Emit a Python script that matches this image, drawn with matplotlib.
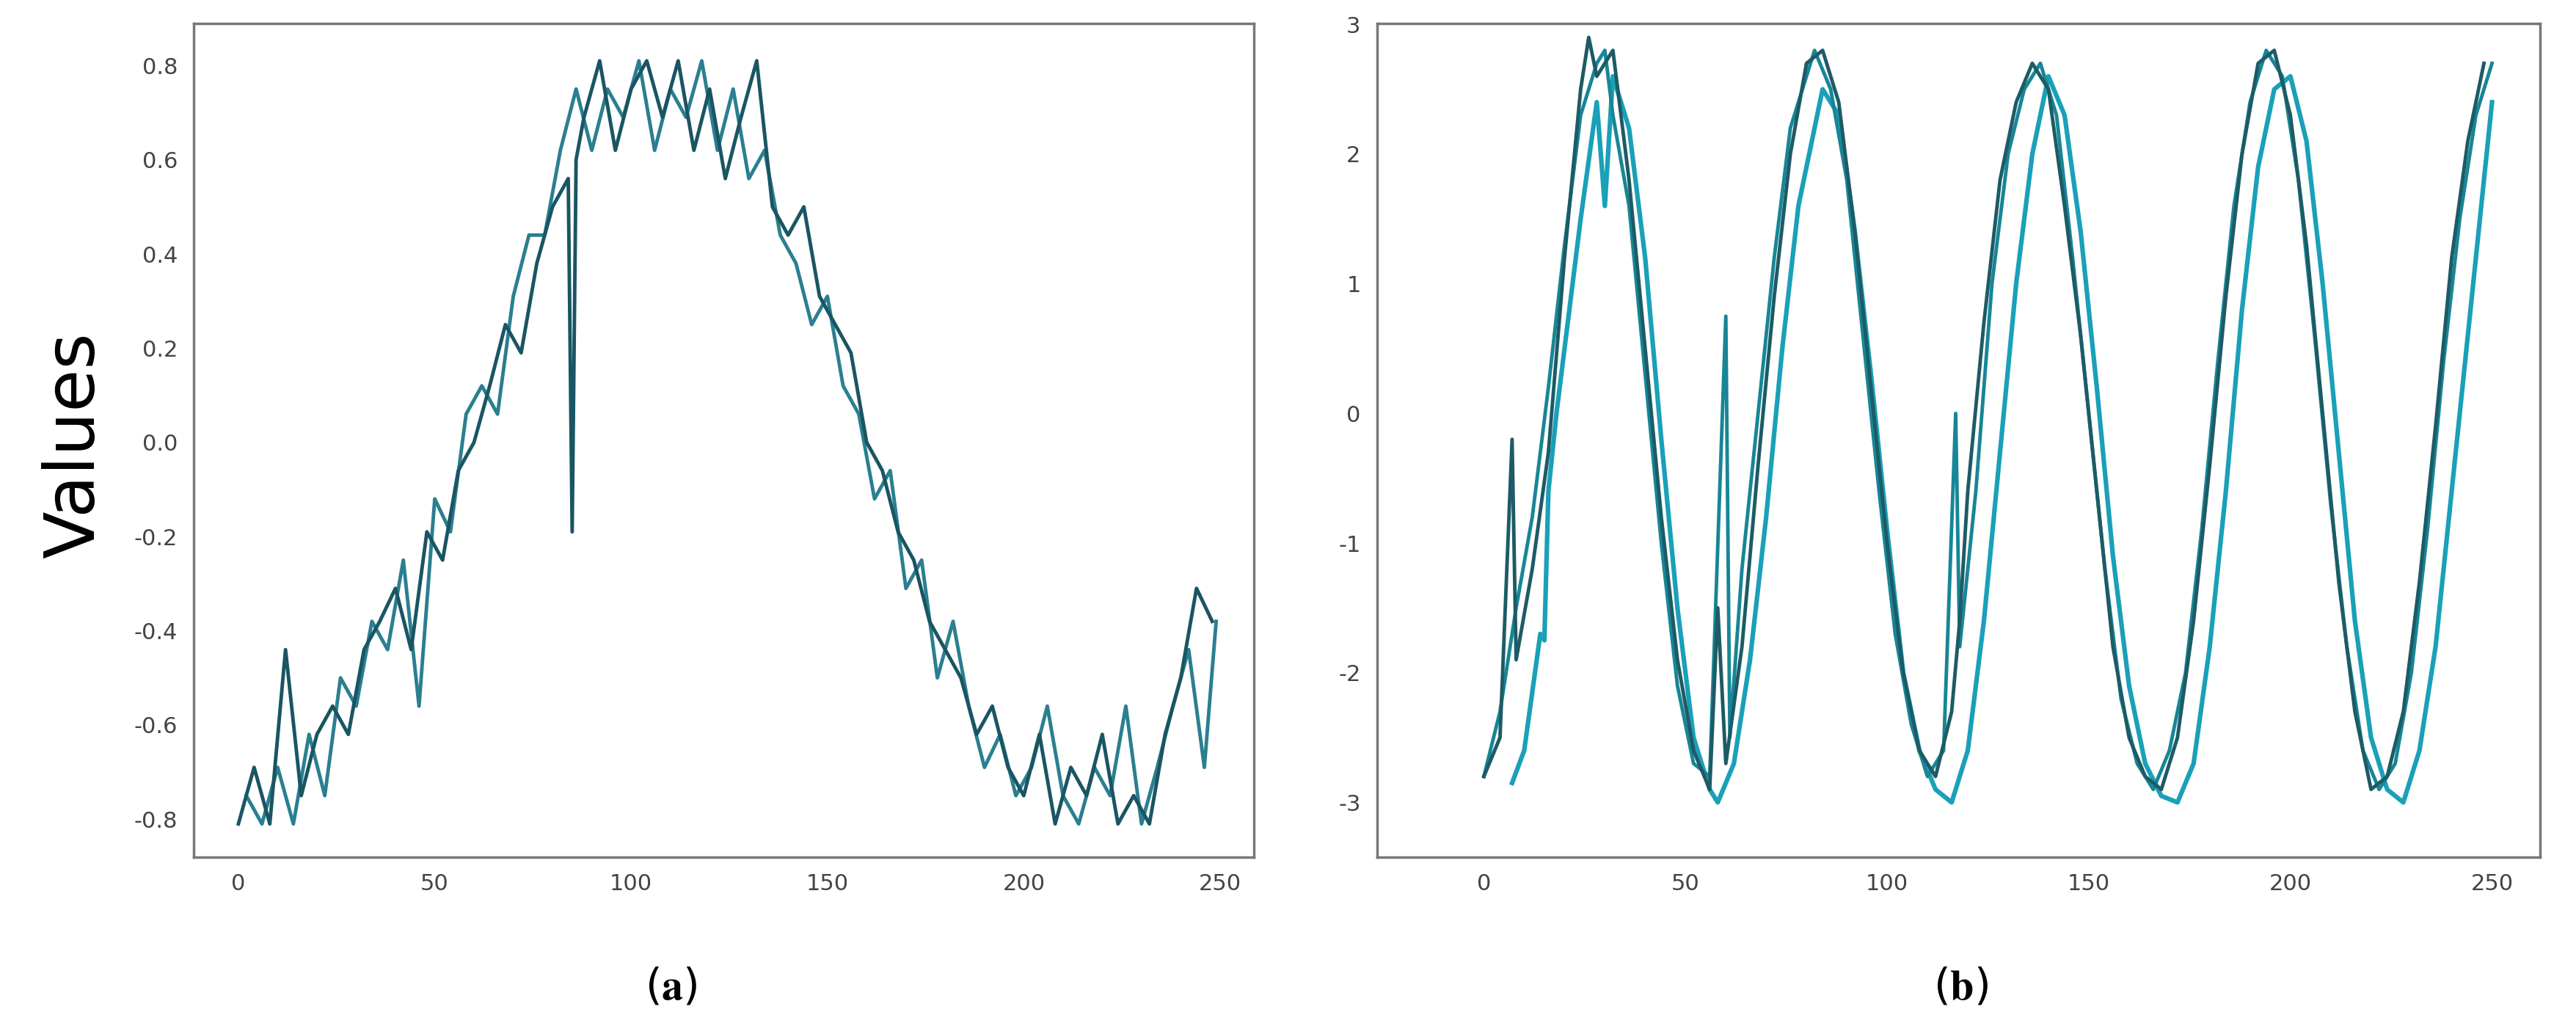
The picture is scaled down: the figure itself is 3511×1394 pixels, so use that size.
import matplotlib
matplotlib.use("Agg")
import matplotlib.pyplot as plt
plt.rcParams['axes.unicode_minus'] = False
plt.rcParams['mathtext.fontset'] = 'stix'

# ---- panel (a) data ----
a1_x = [0,4,8,12,16,20,24,28,32,36,40,44,48,52,56,60,64,68,72,76,80,84,85,86,88,92,96,100,104,108,112,116,120,124,128,132,136,140,144,148,152,156,160,164,168,172,176,180,184,188,192,196,200,204,208,212,216,220,224,228,232,236,240,244,248]
a1_y = [-0.81,-0.69,-0.81,-0.44,-0.75,-0.62,-0.56,-0.62,-0.44,-0.38,-0.31,-0.44,-0.19,-0.25,-0.06,0.0,0.12,0.25,0.19,0.38,0.5,0.56,-0.19,0.6,0.69,0.81,0.62,0.75,0.81,0.69,0.81,0.62,0.75,0.56,0.69,0.81,0.5,0.44,0.5,0.31,0.25,0.19,0.0,-0.06,-0.19,-0.25,-0.38,-0.44,-0.5,-0.62,-0.56,-0.69,-0.75,-0.62,-0.81,-0.69,-0.75,-0.62,-0.81,-0.75,-0.81,-0.62,-0.5,-0.31,-0.38]
a2_x = [2,6,10,14,18,22,26,30,34,38,42,46,50,54,58,62,66,70,74,78,82,86,90,94,98,102,106,110,114,118,122,126,130,134,138,142,146,150,154,158,162,166,170,174,178,182,186,190,194,198,202,206,210,214,218,222,226,230,234,238,242,246,249]
a2_y = [-0.75,-0.81,-0.69,-0.81,-0.62,-0.75,-0.5,-0.56,-0.38,-0.44,-0.25,-0.56,-0.12,-0.19,0.06,0.12,0.06,0.31,0.44,0.44,0.62,0.75,0.62,0.75,0.69,0.81,0.62,0.75,0.69,0.81,0.62,0.75,0.56,0.62,0.44,0.38,0.25,0.31,0.12,0.06,-0.12,-0.06,-0.31,-0.25,-0.5,-0.38,-0.56,-0.69,-0.62,-0.75,-0.69,-0.56,-0.75,-0.81,-0.69,-0.75,-0.56,-0.81,-0.69,-0.56,-0.44,-0.69,-0.38]

# ---- panel (b) data ----
b1_x = [0,4,7,8,12,16,20,24,26,28,32,36,40,44,48,52,56,58,60,64,68,72,76,80,84,88,92,96,100,104,108,112,116,118,120,124,128,132,136,140,144,148,152,156,160,164,168,172,176,180,184,188,192,196,200,204,208,212,216,220,224,228,232,236,240,244,248]
b1_y = [-2.8,-2.5,-0.2,-1.9,-1.2,-0.3,1.2,2.5,2.9,2.6,2.8,1.8,0.5,-0.8,-1.9,-2.6,-2.9,-1.5,-2.7,-1.8,-0.4,0.9,2.0,2.7,2.8,2.4,1.4,0.2,-1.0,-2.0,-2.6,-2.8,-2.3,-1.6,-0.6,0.7,1.8,2.4,2.7,2.5,1.6,0.6,-0.6,-1.8,-2.5,-2.8,-2.9,-2.5,-1.6,-0.4,0.9,2.0,2.7,2.8,2.3,1.3,0.0,-1.3,-2.3,-2.9,-2.8,-2.3,-1.3,-0.1,1.2,2.1,2.7]
b2_x = [0,4,8,12,16,20,24,28,30,32,36,40,44,48,52,56,60,61,64,68,72,76,80,82,86,90,94,98,102,106,110,114,117,118,122,126,130,134,138,142,146,150,154,158,162,166,170,174,178,182,186,190,194,198,202,206,210,214,218,222,226,230,234,238,242,246,250]
b2_y = [-2.8,-2.3,-1.5,-0.8,0.2,1.3,2.3,2.7,2.8,2.3,1.6,0.3,-1.0,-2.1,-2.7,-2.8,0.75,-2.5,-1.2,0.0,1.2,2.2,2.6,2.8,2.5,1.8,0.6,-0.6,-1.7,-2.4,-2.8,-2.6,0.0,-1.8,-0.6,1.0,2.0,2.5,2.7,2.3,1.2,0.0,-1.2,-2.2,-2.7,-2.9,-2.6,-2.0,-0.9,0.4,1.6,2.4,2.8,2.6,1.8,0.6,-0.7,-1.8,-2.6,-2.9,-2.7,-2.0,-0.9,0.4,1.5,2.3,2.7]
b3_x = [7,10,14,15,16,18,20,24,28,30,32,36,40,44,48,52,56,58,62,66,70,74,78,80,84,88,92,96,100,104,108,112,116,120,124,128,132,136,140,144,148,152,156,160,164,168,172,176,180,184,188,192,196,200,204,208,212,216,220,224,228,232,236,240,244,248,250]
b3_y = [-2.85,-2.6,-1.7,-1.75,-0.6,0.0,0.5,1.5,2.4,1.6,2.6,2.2,1.2,-0.2,-1.5,-2.5,-2.9,-3.0,-2.7,-1.9,-0.8,0.5,1.6,1.9,2.5,2.3,1.4,0.3,-0.9,-2.0,-2.6,-2.9,-3.0,-2.6,-1.6,-0.3,1.0,2.0,2.6,2.3,1.4,0.2,-1.1,-2.1,-2.7,-2.95,-3.0,-2.7,-1.8,-0.6,0.8,1.9,2.5,2.6,2.1,1.0,-0.3,-1.6,-2.5,-2.9,-3.0,-2.6,-1.8,-0.6,0.6,1.8,2.4]

xticks = [0, 50, 100, 150, 200, 250]
a_yticks = [-0.8,-0.6,-0.4,-0.2,0.0,0.2,0.4,0.6,0.8]
b_yticks = [-3,-2,-1,0,1,2,3]

fig = plt.figure(figsize=(35.12, 13.94), dpi=100)
axa = fig.add_axes([0.0753, 0.1624, 0.4113, 0.815])
axb = fig.add_axes([0.5344, 0.1624, 0.4515, 0.815])

axa.plot(a2_x, a2_y, color="#2a7f90", lw=3.5)
axa.plot(a1_x, a1_y, color="#1a5563", lw=3.5)
axa.set_xlim(-11.3, 258.6); axa.set_ylim(-0.88, 0.89)
axa.set_yticks(a_yticks); axa.set_yticklabels([f"{v:.1f}" for v in a_yticks])

axb.plot(b3_x, b3_y, color="#1aa0b8", lw=4.5)
axb.plot(b2_x, b2_y, color="#178696", lw=3.5)
axb.plot(b1_x, b1_y, color="#1d5b66", lw=3.5)
axb.set_xlim(-26.5, 262); axb.set_ylim(-3.42, 3.01)
axb.set_yticks(b_yticks)

for ax in (axa, axb):
    ax.set_xticks(xticks)
    ax.tick_params(length=0, labelsize=22, labelcolor="#444444", pad=16)
    for s in ax.spines.values():
        s.set_color("#777777"); s.set_linewidth(2.5)

fig.text(0.029, 0.565, "Values", rotation=90, fontsize=68, ha="center", va="center")
fig.text(0.2605, 0.035, r"($\mathbf{a}$)", fontsize=42, ha="center", va="center")
fig.text(0.761, 0.035, r"($\mathbf{b}$)", fontsize=42, ha="center", va="center")
fig.savefig("out.png", dpi=100, facecolor="white")
